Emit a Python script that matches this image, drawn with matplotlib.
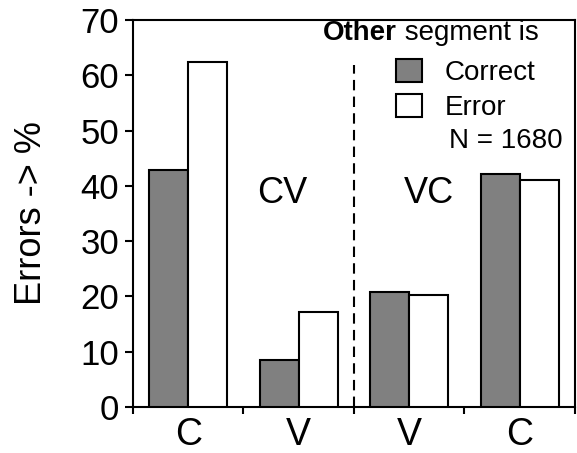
import numpy as np
import matplotlib.pyplot as plt
from matplotlib.patches import Patch

plt.rcParams['font.family'] = ['Liberation Sans', 'DejaVu Sans']

# data
categorias = ['C', 'V', 'V', 'C']
correcto = [42.9, 8.5, 20.8, 42.1]
error = [62.4, 17.2, 20.3, 41.0]
etiquetas_grupo = ['CV', 'VC']
n_total = 1680

fig = plt.figure(figsize=(5.77, 4.53), dpi=100)
ax = fig.add_axes([0.2305, 0.1015, 0.766, 0.8543])

x = np.arange(len(categorias))
ancho = 0.355
b1 = ax.bar(x - ancho / 2, correcto, ancho, color='#808080',
            edgecolor='black', linewidth=1.5, zorder=3)
b2 = ax.bar(x + ancho / 2, error, ancho, color='white',
            edgecolor='black', linewidth=1.5, zorder=3)

ax.set_xlim(-0.5, 3.5)
ax.set_ylim(0, 70)
ax.set_yticks(np.arange(0, 71, 10))
ax.tick_params(axis='y', labelsize=25, width=1.5, length=6, direction='out', pad=4)

# etiquetas en el centro de cada grupo, marcas en los bordes
ax.set_xticks(x)
ax.set_xticklabels(categorias, fontsize=27)
ax.tick_params(axis='x', length=0, pad=7)
ax.set_xticks(np.arange(-0.5, 4, 1), minor=True)
ax.tick_params(axis='x', which='minor', length=5, width=1.5, direction='out')

for s in ax.spines.values():
    s.set_linewidth(1.5)

ax.set_ylabel('Errors -> %', fontsize=26)
ax.yaxis.set_label_coords(-0.19, 0.5)

# linea divisoria
ax.axvline(1.5, ymin=0, ymax=0.885, color='black', linewidth=1.5,
           linestyle=(0, (5, 3)), zorder=2)

ax.text(0.85, 38.7, etiquetas_grupo[0], fontsize=26, ha='center', va='center')
ax.text(2.18, 38.7, etiquetas_grupo[1], fontsize=26, ha='center', va='center')

# leyenda
t1 = ax.text(1.22, 66.3, 'Other', fontsize=20, fontweight='bold', ha='left', va='baseline')
ax.annotate(' segment is', xy=(1, 0), xycoords=t1, fontsize=20,
            ha='left', va='bottom')
handles = [Patch(facecolor='#808080', edgecolor='black', linewidth=1.5),
           Patch(facecolor='white', edgecolor='black', linewidth=1.5)]
ax.legend(handles, ['Correct', 'Error'], loc='upper left',
          bbox_to_anchor=(0.595, 0.9), frameon=False, fontsize=20,
          handlelength=0.95, handleheight=0.9, handletextpad=0.8,
          labelspacing=0.3, borderpad=0, borderaxespad=0)
ax.text(3.39, 48.1, f'N = {n_total}', fontsize=20, ha='right', va='center')

fig.savefig('out.png', dpi=100)
